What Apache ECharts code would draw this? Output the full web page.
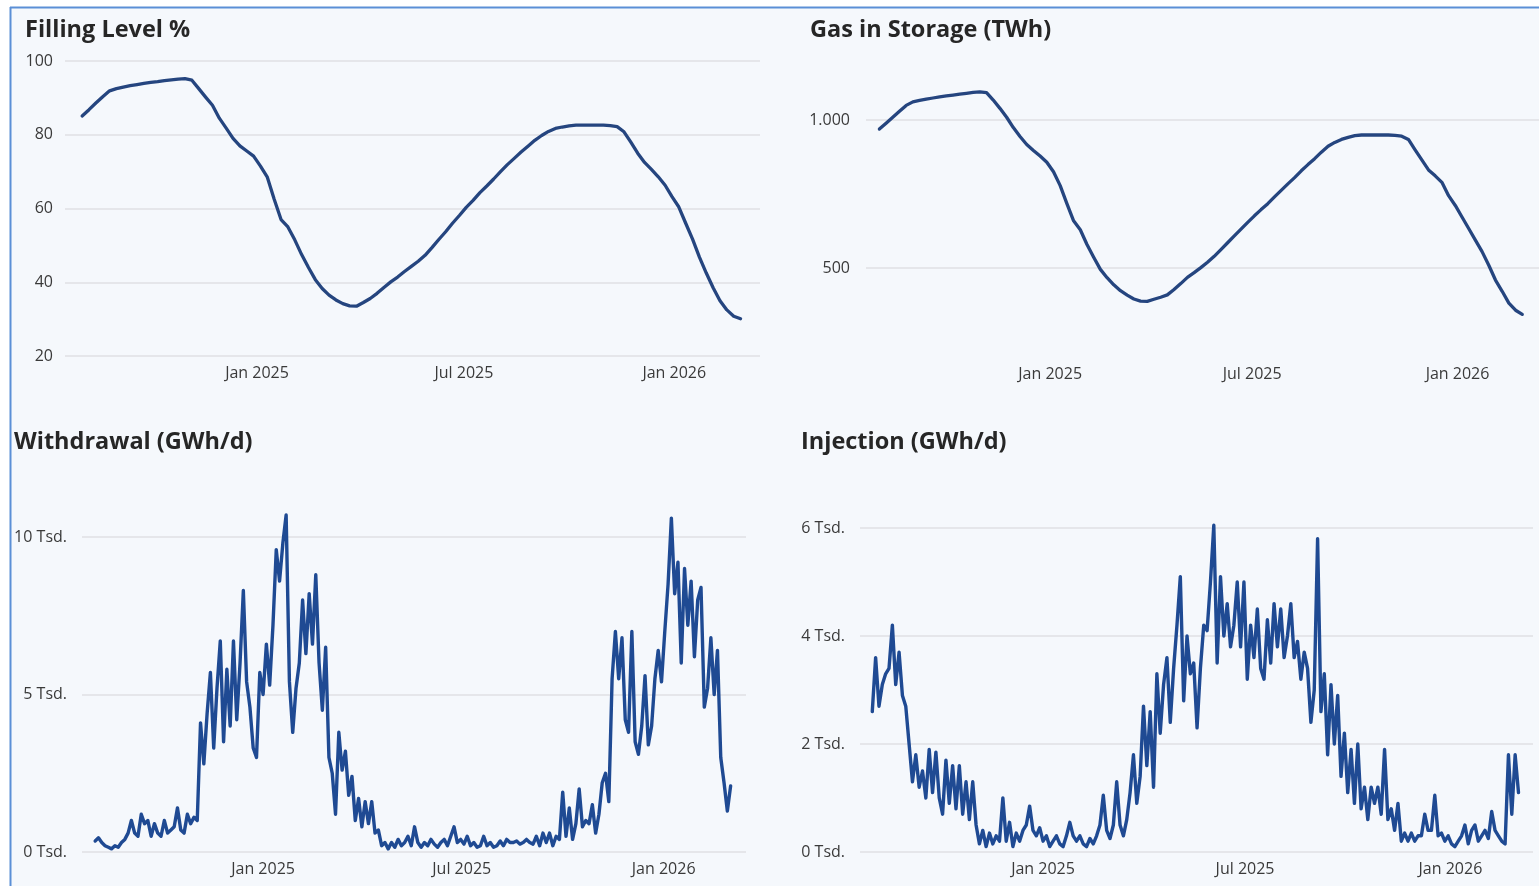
<!DOCTYPE html>
<html>
<head>
<meta charset="utf-8">
<script src="https://cdn.jsdelivr.net/npm/echarts@6/dist/echarts.min.js"></script>
<style>
html,body{margin:0;padding:0;background:#fff;}
#chart{width:1539px;height:886px;}
</style>
</head>
<body>
<div id="chart"></div>
<script>
// ---- data ----
const seriesStart = [2024, 7, 1];       // first day of all series (1 Aug 2024)
const storageStepDays = 6;               // spacing of the storage samples
const flowStepDays = 3;                  // spacing of the flow samples

const titles = ['Filling Level %', 'Gas in Storage (TWh)', 'Withdrawal (GWh/d)', 'Injection (GWh/d)'];
const xTickDates = [[2025, 0, 1], [2025, 6, 1], [2026, 0, 1]];
const xTickLabels = ['Jan 2025', 'Jul 2025', 'Jan 2026'];
const yTicksGas = [500, 1000];
const yTicksWithdrawal = [0, 5000, 10000];
const yTicksInjection = [0, 2000, 4000, 6000];

const fillingLevel = [
85.1,86.8,88.6,90.3,91.9,92.5,92.9,93.3,93.6,93.9,94.2,94.4,94.7,94.9,95.1,95.2,94.8,92.5,90.2,88.0,
84.5,81.8,79.0,77.0,75.6,74.2,71.5,68.5,62.5,57.0,55.0,51.5,47.5,44.0,40.7,38.3,36.5,35.2,34.2,33.6,
33.5,34.5,35.6,37.0,38.6,40.1,41.4,42.9,44.3,45.7,47.3,49.4,51.6,53.7,56.0,58.1,60.3,62.2,64.3,66.1,
68.0,70.0,71.9,73.6,75.3,76.9,78.5,79.8,80.9,81.7,82.1,82.4,82.6,82.6,82.6,82.6,82.6,82.5,82.2,80.8,
78.0,75.0,72.5,70.6,68.6,66.3,63.2,60.4,56.0,51.7,46.8,42.5,38.5,35.0,32.5,30.8,30.1
];

const gasInStorage = [
970,990,1010,1030,1050,1062,1067,1071,1075,1079,1082,1085,1088,1091,1094,1096,1093,1068,1040,1010,
975,945,918,898,879,858,826,779,718,660,630,580,537,496,468,444,424,409,396,389,
388,395,402,410,428,448,469,485,502,520,540,563,586,609,632,655,677,698,718,741,
763,785,806,829,850,870,892,912,925,935,942,948,950,950,950,950,950,949,946,935,
900,866,832,812,790,745,712,673,634,595,556,510,460,422,382,358,344
];

const withdrawal = [
350,450,300,200,150,100,200,150,300,400,
600,1000,600,500,1200,900,1000,500,900,600,
500,1000,600,700,800,1400,700,600,1200,900,
1100,1000,4100,2800,4400,5700,3300,5200,6700,3500,
5800,4000,6700,4200,6000,8300,5400,4600,3300,3000,
5700,5000,6600,5300,7200,9600,8600,9800,10700,5400,
3800,5200,6000,8000,6300,8200,6600,8800,6000,4500,
6500,3000,2500,1200,3800,2600,3200,1800,2400,1000,
1700,800,1600,900,1600,600,700,200,300,100,
300,150,400,200,300,500,200,800,300,150,
300,200,400,250,150,300,400,200,500,800,
300,400,250,500,200,300,150,200,500,200,
300,150,200,350,200,400,300,300,350,250,
300,400,300,250,500,200,600,300,600,200,
500,400,1900,500,1400,400,900,2000,800,1000,
900,1500,600,1200,2200,2500,1600,5500,7000,5500,
6800,4200,3800,7000,3500,3100,4000,5600,3400,4000,
5500,6400,5400,7000,8500,10600,8200,9200,6000,9000,
7200,8600,6200,8000,8400,4600,5200,6800,5000,6400,
3000,2200,1300,2100
];

const injection = [
2600,3600,2700,3100,3300,3400,4200,3100,3700,2900,
2700,2000,1300,1800,1200,1500,1000,1900,1100,1850,
1000,700,1700,900,1600,800,1600,700,1300,600,
1300,500,150,400,100,350,150,300,200,1000,
200,550,100,350,200,400,500,850,400,300,
450,200,300,100,200,300,150,100,300,550,
300,200,300,150,100,250,150,300,500,1050,
400,250,500,1300,500,300,600,1100,1800,900,
1400,2700,1600,2600,1200,3300,2200,3100,3600,2400,
3400,4200,5100,2800,4000,3300,3500,2300,3400,4200,
4100,5000,6050,3500,5100,4000,4600,3800,4200,5000,
3800,5000,3200,4200,3600,4500,3400,3200,4300,3500,
4600,3800,4500,3600,4000,4600,3600,3900,3200,3700,
3400,2400,3000,5800,2600,3300,1800,3100,2000,2900,
1400,2200,1100,1900,900,2000,800,1200,600,1200,
900,1200,700,1900,600,800,400,900,200,350,
200,350,200,300,300,700,400,400,1050,300,
350,200,300,150,100,200,300,500,150,400,
500,200,300,400,250,750,400,300,200,150,
1800,700,1800,1100
];

// ---- helpers ----
// x values are days counted from seriesStart
const startUTC = Date.UTC(seriesStart[0], seriesStart[1], seriesStart[2]);
function dayOf(d) { return Math.round((Date.UTC(d[0], d[1], d[2]) - startUTC) / 86400000); }
function toPairs(values, step) {
  return values.map((v, i) => [i * step, v]);
}
const xTickDays = xTickDates.map(dayOf);
function xLabel(v) {
  const j = xTickDays.indexOf(Math.round(v));
  return j >= 0 ? xTickLabels[j] : '';
}
function deNumber(v) {
  if (v >= 1000) return Math.floor(v / 1000) + '.' + String(v % 1000).padStart(3, '0');
  return String(v);
}
function tsd(v) { return (v / 1000) + ' Tsd.'; }

const FONT = "'Open Sans', 'Noto Sans', sans-serif";
const labelColor = '#3a3a3a';
const gridLineColor = '#dfe1e4';

function makeX(gridIndex, minDay, maxDay) {
  return {
    type: 'value', gridIndex, min: minDay, max: maxDay,
    axisLine: {show: false}, axisTick: {show: false, customValues: xTickDays},
    splitLine: {show: false},
    axisLabel: {customValues: xTickDays, formatter: xLabel, color: labelColor,
      fontFamily: FONT, fontSize: 16, margin: 9}
  };
}
function makeY(gridIndex, min, max, opts) {
  const ax = {
    type: 'value', gridIndex, min, max,
    axisLine: {show: false},
    axisTick: {show: false},
    splitLine: {show: true, lineStyle: {color: gridLineColor, width: 1.6}},
    axisLabel: {color: labelColor, fontFamily: FONT, fontSize: 16, margin: opts.margin}
  };
  if (opts.interval) ax.interval = opts.interval;
  if (opts.ticks) { ax.axisLabel.customValues = opts.ticks; ax.axisTick.customValues = opts.ticks; }
  if (opts.formatter) ax.axisLabel.formatter = opts.formatter;
  return ax;
}
function makeSeries(idx, data, color, width) {
  return {
    type: 'line', xAxisIndex: idx, yAxisIndex: idx, data,
    showSymbol: false, symbol: 'none', smooth: false,
    lineStyle: {color, width, join: 'round', cap: 'round'},
    itemStyle: {color}, emphasis: {disabled: true}
  };
}

const titlePos = [[25, 18], [810, 18], [14, 430], [801, 430]];

const chart = echarts.init(document.getElementById('chart'), null, {renderer: 'canvas'});
chart.setOption({
  animation: false,
  backgroundColor: '#f5f8fc',
  title: titles.map((t, i) => ({
    text: t, left: titlePos[i][0], top: titlePos[i][1], padding: 0,
    textStyle: {fontFamily: FONT, fontSize: 23.5, fontWeight: 'bold', color: '#262626'}
  })),
  graphic: [
    {type: 'rect', shape: {x: 0, y: 0, width: 1539, height: 7}, style: {fill: '#ffffff'}, z: 100},
    {type: 'rect', shape: {x: 0, y: 0, width: 10, height: 886}, style: {fill: '#ffffff'}, z: 100},
    {type: 'line', shape: {x1: 10, y1: 7.5, x2: 1539, y2: 7.5}, style: {stroke: '#5b8fd6', lineWidth: 2}, z: 101},
    {type: 'line', shape: {x1: 10.5, y1: 7, x2: 10.5, y2: 886}, style: {stroke: '#5b8fd6', lineWidth: 2}, z: 101}
  ],
  grid: [
    {left: 65, top: 61, width: 695, height: 295},
    {left: 866, top: 61, width: 675, height: 296},
    {left: 82, top: 474, width: 664, height: 378},
    {left: 860, top: 474, width: 673, height: 378}
  ],
  xAxis: [
    makeX(0, -15, 593),
    makeX(1, -12, 591),
    makeX(2, -12, 593),
    makeX(3, -11, 592)
  ],
  yAxis: [
    makeY(0, 20, 100, {interval: 20, margin: 12}),
    makeY(1, 200, 1200, {ticks: yTicksGas, formatter: deNumber, margin: 16}),
    makeY(2, 0, 12000, {ticks: yTicksWithdrawal, formatter: tsd, margin: 15}),
    makeY(3, 0, 7000, {ticks: yTicksInjection, formatter: tsd, margin: 15})
  ],
  series: [
    makeSeries(0, toPairs(fillingLevel, storageStepDays), '#25457f', 3.3),
    makeSeries(1, toPairs(gasInStorage, storageStepDays), '#25457f', 3.3),
    makeSeries(2, toPairs(withdrawal, flowStepDays), '#1f4a93', 3.4),
    makeSeries(3, toPairs(injection, flowStepDays), '#1f4a93', 3.4)
  ]
});
</script>
</body>
</html>
